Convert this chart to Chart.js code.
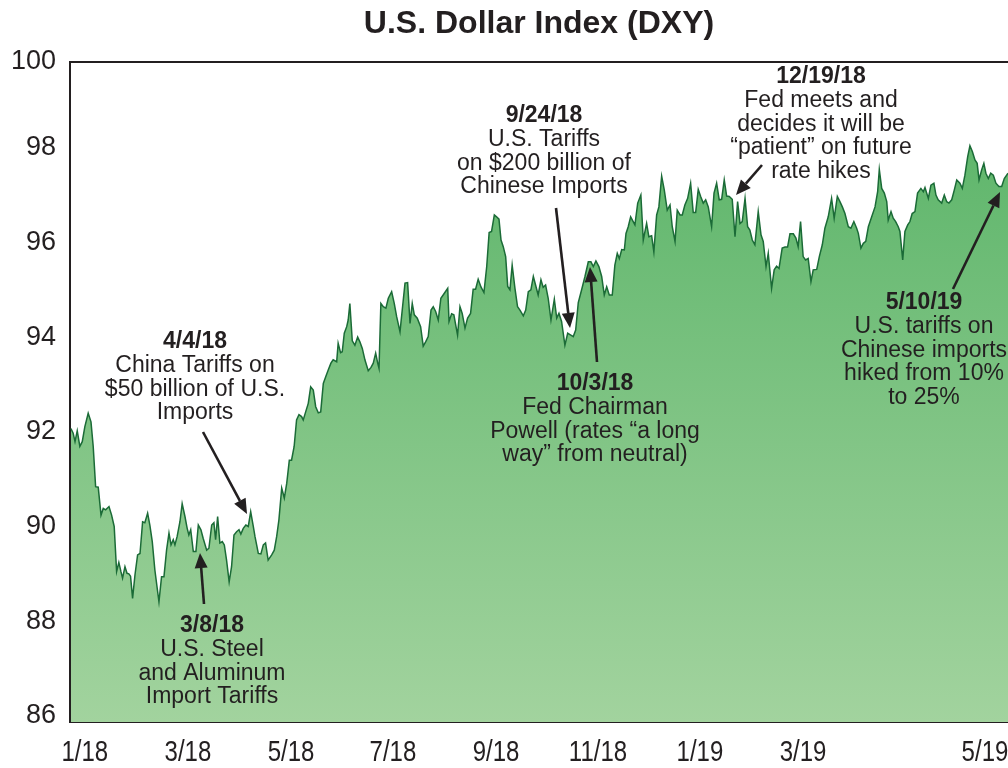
<!DOCTYPE html>
<html>
<head>
<meta charset="utf-8">
<script src="https://cdn.jsdelivr.net/npm/chart.js@4.4.1/dist/chart.umd.min.js"></script>
<style>
  html, body { margin: 0; padding: 0; background: #ffffff; overflow: hidden; }
  #wrap { width: 1008px; height: 768px; }
</style>
</head>
<body>
<div id="wrap"><canvas id="c" width="1008" height="768"></canvas></div>
<script>
// Day offsets counted from 1 Jan 2018
const dayOffsets = [
  1.0,2.2,3.2,4.4,5.8,7.1,8.5,10.3,11.8,13.0,14.3,15.7,17.2,18.4,19.7,21.5,22.9,24.3,25.6,26.8,27.9,28.8,30.1,31.2,32.2,33.1,34.2,35.5,36.9,38.2,39.6,40.8,42.3,43.5,44.8,46.2,48.4,49.8,51.1,52.5,53.8,54.9,56.1,57.0,58.2,59.7,60.9,62.4,63.6,64.5,65.5,66.9,68.3,69.6,71.0,72.2,74.1,75.3,76.8,78.0,78.9,80.0,81.2,82.5,83.6,84.8,86.2,87.5,88.8,90.2,91.5,92.5,93.8,95.2,96.5,97.8,99.2,100.1,
  101.9,103.3,104.6,105.8,107.2,109.1,110.5,111.8,113.0,114.5,115.9,117.2,118.6,119.8,121.2,122.5,123.8,125.2,126.1,127.4,128.8,130.1,131.5,132.8,134.2,135.5,136.9,138.2,139.6,141.0,142.2,144.1,144.9,146.2,147.1,148.2,149.5,150.3,151.2,152.5,153.9,155.4,156.6,157.9,159.3,161.1,162.6,163.8,165.1,166.2,166.9,167.9,169.2,170.6,171.9,173.7,175.1,176.4,178.2,179.4,180.9,182.3,183.6,184.8,185.9,187.5,189.3,190.7,192.0,193.4,194.9,196.1,197.4,198.8,200.2,202.0,
  203.9,204.6,206.0,207.2,209.2,210.5,211.7,213.2,214.6,216.2,217.6,218.9,220.3,221.8,223.4,224.9,226.2,227.5,229.0,230.2,231.5,232.6,233.8,235.1,236.2,237.4,238.6,240.1,241.5,242.8,244.6,245.9,247.3,248.7,250.0,251.2,252.6,254.1,255.3,256.6,258.0,259.5,261.3,262.6,263.8,265.2,267.0,268.5,270.2,271.5,272.8,274.2,276.0,277.8,279.6,281.0,282.3,283.7,285.3,286.8,288.2,289.5,290.9,292.5,293.9,295.2,296.3,297.6,299.0,299.9,301.1,302.4,
  304.7,306.2,307.9,309.2,311.0,312.2,313.7,314.9,316.4,317.6,319.1,320.5,322.1,323.6,324.8,326.3,327.5,329.0,330.2,331.6,333.1,334.7,336.1,337.4,338.8,340.1,341.5,342.8,344.2,346.0,347.3,348.7,350.1,351.4,352.8,354.1,355.5,357.1,358.6,360.0,361.3,362.5,364.0,365.4,366.6,367.9,369.3,371.1,372.6,373.8,375.3,376.5,378.3,379.7,381.0,382.3,384.0,385.5,386.9,388.2,390.0,391.4,392.6,393.9,395.3,396.6,398.0,399.5,400.7,402.6,404.0,405.6,
  407.0,408.8,410.6,412.0,413.7,415.1,416.4,417.8,419.6,421.0,422.6,424.1,425.0,426.4,427.7,429.0,430.4,432.2,434.0,435.4,436.3,437.6,439.0,440.3,441.1,442.6,443.8,445.1,446.5,447.4,448.9,450.1,451.6,452.8,454.0,455.5,456.9,458.7,460.0,460.9,462.7,464.1,465.7,466.8,468.0,469.9,471.3,472.6,473.8,475.3,476.7,478.0,479.7,481.0,482.4,483.9,485.1,486.4,487.8,489.0,490.0,491.4,492.6,493.7,495.0,496.3,497.7,499.1,500.7,502.2,503.6,505.6
];

const dxyValues = [
  92.07,91.97,91.79,92.02,91.69,91.79,92.11,92.39,92.21,91.69,90.84,90.83,90.24,90.38,90.35,90.42,90.24,90.00,89.05,89.24,89.05,88.91,89.15,89.01,89.00,88.95,88.48,88.98,89.40,89.43,90.10,90.08,90.28,90.03,89.68,89.08,88.41,88.94,88.94,89.50,89.86,89.61,89.72,89.61,89.79,90.10,90.48,90.21,89.96,89.82,89.93,89.47,89.47,90.03,89.93,89.75,89.50,89.54,90.03,90.08,89.72,90.21,89.65,89.68,89.61,89.29,88.83,89.15,89.82,89.89,89.93,89.84,89.96,90.03,90.00,90.31,90.00,89.79,
  89.43,89.42,89.61,89.65,89.29,89.40,89.50,89.79,90.14,90.81,90.60,90.91,91.40,91.40,91.69,92.25,92.36,92.32,92.25,92.42,92.60,92.95,92.88,92.53,92.40,92.42,93.02,93.16,93.31,93.45,93.52,93.48,93.87,93.67,93.69,94.08,94.22,94.36,94.71,93.92,93.83,94.00,93.90,93.76,93.52,93.29,93.36,93.45,93.66,93.45,93.34,94.71,94.64,94.61,94.82,94.96,94.71,94.43,94.11,94.57,95.14,95.15,94.29,94.71,94.47,94.40,94.22,93.81,93.90,94.01,94.57,94.64,94.54,94.36,94.82,94.92,
  95.03,94.33,94.49,94.47,94.04,94.64,94.50,94.19,94.40,94.50,95.01,95.01,95.22,95.06,94.94,95.49,96.21,96.23,96.58,96.54,96.49,96.05,95.91,95.70,95.07,95.00,95.52,95.03,94.64,94.57,94.45,94.57,94.96,95.00,95.28,95.10,94.89,95.21,95.05,95.10,94.82,94.36,94.80,94.40,94.50,94.33,93.83,94.08,94.04,94.01,94.15,94.73,95.00,95.28,95.59,95.59,95.49,95.61,95.49,95.28,94.89,95.06,94.89,94.89,95.52,95.77,95.66,95.85,95.84,96.19,96.33,96.54,
  96.37,96.83,97.00,96.05,96.40,96.12,96.14,95.80,96.58,96.75,97.40,97.11,96.68,96.79,96.33,96.02,96.68,96.58,96.58,96.79,96.93,97.25,96.63,96.63,97.12,96.97,96.83,96.90,96.75,96.33,97.04,97.25,96.90,96.91,97.32,96.98,96.97,96.91,96.12,96.86,96.40,96.44,96.93,96.33,96.26,96.05,95.95,96.65,96.16,96.02,95.49,95.77,95.03,95.42,95.50,95.45,95.88,95.90,95.90,96.18,96.18,96.09,95.91,96.44,95.70,95.63,95.66,95.17,95.42,95.43,95.70,95.95,
  96.30,96.54,96.93,96.51,96.97,96.86,96.75,96.61,96.33,96.30,96.44,96.30,96.19,95.88,95.98,96.02,96.33,96.54,96.75,97.07,97.54,97.14,97.04,96.86,96.47,96.65,96.51,96.44,96.33,96.23,95.63,96.23,96.37,96.44,96.61,96.65,97.04,97.14,97.07,97.16,96.93,97.21,97.25,97.00,96.90,96.83,97.00,96.86,96.83,96.90,97.11,97.32,97.25,97.14,97.42,97.81,98.04,97.92,97.74,97.67,97.32,97.53,97.67,97.46,97.35,97.46,97.42,97.25,97.18,97.18,97.35,97.46
];

const xTickLabels = ['1/18','3/18','5/18','7/18','9/18','11/18','1/19','3/19','5/19'];
const xTickDays   = [8.5, 64.0, 119.5, 174.4, 229.9, 284.8, 339.7, 395.2, 493.2];
const yTickValues = [86, 88, 90, 92, 94, 96, 98, 100];

const chartTitle = 'U.S. Dollar Index (DXY)';

// Event notes (text + arrow), laid out in canvas pixels
const notes = [
  { head: '3/8/18', lines: ['U.S. Steel', 'and Aluminum', 'Import Tariffs'], cx: 212, y0: 626, arrow: [204, 604, 200, 553] },
  { head: '4/4/18', lines: ['China Tariffs on', '$50 billion of U.S.', 'Imports'], cx: 195, y0: 342, arrow: [203, 432, 247, 514] },
  { head: '9/24/18', lines: ['U.S. Tariffs', 'on $200 billion of', 'Chinese Imports'], cx: 544, y0: 116, arrow: [556, 208, 570, 328] },
  { head: '10/3/18', lines: ['Fed Chairman', 'Powell (rates \u201ca long', 'way\u201d from neutral)'], cx: 595, y0: 384, arrow: [597, 362, 590, 267] },
  { head: '12/19/18', lines: ['Fed meets and', 'decides it will be', '\u201cpatient\u201d on future', 'rate hikes'], cx: 821, y0: 77, arrow: [762, 165, 736, 195] },
  { head: '5/10/19', lines: ['U.S. tariffs on', 'Chinese imports', 'hiked from 10%', 'to 25%'], cx: 924, y0: 303, arrow: [953, 289, 1000, 192] }
];

const INK = '#231f20';
const yMax = 99.81, yMin = 85.87;

const notesPlugin = {
  id: 'notes',
  afterDraw(chart) {
    const ctx = chart.ctx, ca = chart.chartArea;
    ctx.save();
    // top frame line
    ctx.strokeStyle = INK; ctx.lineWidth = 2;
    ctx.beginPath(); ctx.moveTo(ca.left - 1, ca.top); ctx.lineTo(chart.width, ca.top); ctx.stroke();
    ctx.fillStyle = INK;
    ctx.textAlign = 'center'; ctx.textBaseline = 'middle';

    // x-axis labels (condensed face), positioned by the x scale
    const xs = chart.scales.x;
    ctx.font = '30px "Liberation Sans", Arial, sans-serif';
    xTickLabels.forEach((lab, i) => {
      const px = xs.getPixelForValue(xTickDays[i]);
      ctx.save();
      ctx.translate(px, ca.bottom + 31);
      ctx.scale(0.8, 1);
      ctx.fillText(lab, 0, 0);
      ctx.restore();
    });

    const lh = 23.6;
    notes.forEach(n => {
      ctx.font = 'bold 23px "Liberation Sans", Arial, sans-serif';
      ctx.fillText(n.head, n.cx, n.y0);
      ctx.font = '23px "Liberation Sans", Arial, sans-serif';
      n.lines.forEach((t, i) => ctx.fillText(t, n.cx, n.y0 + lh * (i + 1)));
      const [x1, y1, x2, y2] = n.arrow;
      const ang = Math.atan2(y2 - y1, x2 - x1);
      const L = 15, W = 6.5;
      const bx = x2 - L * Math.cos(ang), by = y2 - L * Math.sin(ang);
      ctx.lineWidth = 2.6; ctx.strokeStyle = INK;
      ctx.beginPath(); ctx.moveTo(x1, y1); ctx.lineTo(bx, by); ctx.stroke();
      ctx.beginPath();
      ctx.moveTo(x2, y2);
      ctx.lineTo(bx + W * Math.sin(ang), by - W * Math.cos(ang));
      ctx.lineTo(bx - W * Math.sin(ang), by + W * Math.cos(ang));
      ctx.closePath(); ctx.fill();
    });
    ctx.restore();
  }
};

const points = dayOffsets.map((d, i) => ({ x: d, y: dxyValues[i] }));

new Chart(document.getElementById('c'), {
  type: 'line',
  data: {
    datasets: [{
      data: points,
      borderColor: '#1b6b37',
      borderWidth: 1.5,
      pointRadius: 0,
      tension: 0,
      fill: 'start',
      backgroundColor: (context) => {
        const chart = context.chart;
        const ca = chart.chartArea;
        if (!ca) return '#7cc47f';
        const g = chart.ctx.createLinearGradient(0, ca.top, 0, ca.bottom);
        g.addColorStop(0, '#56b265');
        g.addColorStop(1, '#a2d39e');
        return g;
      }
    }]
  },
  options: {
    responsive: false,
    animation: false,
    events: [],
    layout: { padding: { left: 0, right: 0, top: 0, bottom: 0 } },
    plugins: {
      legend: { display: false },
      tooltip: { enabled: false },
      title: {
        display: true,
        text: chartTitle,
        fullSize: false,
        color: INK,
        font: { family: '"Liberation Sans", Arial, sans-serif', size: 32, weight: 'bold', lineHeight: 1.2 },
        padding: { top: 5, bottom: 18.6 }
      }
    },
    scales: {
      x: {
        type: 'linear',
        min: 0.5,
        max: 505.6,
        z: 1,
        afterBuildTicks: (scale) => { scale.ticks = xTickDays.map(v => ({ value: v })); },
        afterFit: (scale) => { scale.height = 46; scale.paddingLeft = 0; scale.paddingRight = 0; },
        grid: { display: false, drawTicks: false },
        border: { display: true, color: INK, width: 2 },
        ticks: { display: false, autoSkip: false, maxRotation: 0 }
      },
      y: {
        min: yMin,
        max: yMax,
        z: 1,
        afterBuildTicks: (scale) => { scale.ticks = yTickValues.map(v => ({ value: Math.min(v, yMax) })); },
        afterFit: (scale) => { scale.width = 70; scale.paddingTop = 0; scale.paddingBottom = 0; },
        grid: { display: false, drawTicks: false },
        border: { display: true, color: INK, width: 2 },
        ticks: {
          autoSkip: false, padding: 14,
          color: INK,
          font: { family: '"Liberation Sans", Arial, sans-serif', size: 27 },
          callback: (value, index) => String(yTickValues[index])
        }
      }
    }
  },
  plugins: [notesPlugin]
});
</script>
</body>
</html>
